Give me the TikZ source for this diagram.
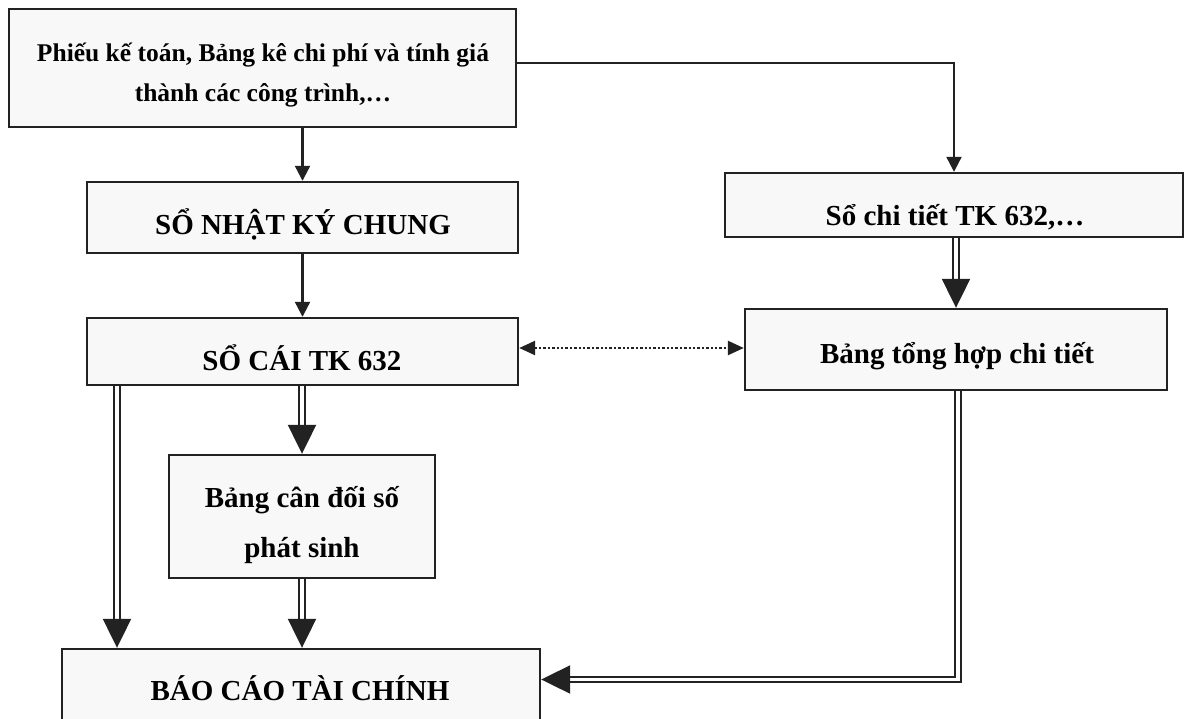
\documentclass[tikz,border=0pt]{standalone}
\usepackage{fontspec}
\setmainfont{Liberation Serif}
\usetikzlibrary{arrows.meta}
\definecolor{ink}{HTML}{222222}
\definecolor{boxfill}{HTML}{F8F8F8}
\begin{document}
\begin{tikzpicture}[x=1pt,y=-1pt,
  box/.style={draw=ink, fill=boxfill, line width=2.4pt, inner sep=0pt, rectangle},
  lbl/.style={font=\bfseries\fontsize{29}{34}\selectfont, inner sep=0pt, anchor=base, text=black},
  lblsmall/.style={font=\bfseries\fontsize{25.5}{30}\selectfont, inner sep=0pt, anchor=base, text=black},
  sarrow/.style={draw=ink, line width=2.2pt, -{Triangle[length=15pt,width=15pt]}},
  darrow/.style={draw=ink, double=white, line width=2.2pt, double distance=3.2pt, -{Triangle[length=29pt,width=28pt]}},
  dotarrow/.style={draw=ink, line width=2.6pt, dash pattern=on 2.4pt off 2pt, {Triangle[length=16pt,width=14pt]}-{Triangle[length=16pt,width=14pt]}},
]
\useasboundingbox (0,0) rectangle (1184,718);
\clip (0,0) rectangle (1184,718);
\fill[white] (0,0) rectangle (1184,718);

% boxes
\node[box, minimum width=507pt, minimum height=118pt] (top) at (262.5,68) {};
\node[box, minimum width=431pt, minimum height=71pt] (nkc) at (302.5,217.5) {};
\node[box, minimum width=431pt, minimum height=67pt] (sc) at (302.5,351.5) {};
\node[box, minimum width=266pt, minimum height=123pt] (bcd) at (302,516.5) {};
\node[box, minimum width=478pt, minimum height=111pt] (bctc) at (301,704.5) {};
\node[box, minimum width=458pt, minimum height=64pt] (ct) at (954,205) {};
\node[box, minimum width=422pt, minimum height=81pt] (th) at (956,349.5) {};

% labels
\node[lblsmall] (topa) at (263,61) {Phiếu kế toán, Bảng kê chi phí và tính giá};
\node[lblsmall] (topb) at (263,101) {thành các công trình,…};
\node[lbl] (nkct) at (303,234) {SỔ NHẬT KÝ CHUNG};
\node[lbl] (sct) at (302,370) {SỔ CÁI TK 632};
\node[lbl] (bcda) at (302,507) {Bảng cân đối số};
\node[lbl] (bcdb) at (302,557) {phát sinh};
\node[lbl] (bctct) at (300,700) {BÁO CÁO TÀI CHÍNH};
\node[lbl] (ctt) at (955,225) {Sổ chi tiết TK 632,…};
\node[lbl] (tht) at (957,363) {Bảng tổng hợp chi tiết};

% connectors
\draw[sarrow] (nkc.north |- top.south) -- (nkc.north);
\draw[sarrow] (nkc.south) -- (sc.north);
\draw[sarrow] (top.east |- 0,63) -| (ct.north);
\draw[darrow] (bcd.north |- sc.south) -- (bcd.north);
\draw[darrow] (sc.south -| 117,0) -- (bctc.north -| 117,0);
\draw[darrow] (bcd.south) -- (bcd.south |- bctc.north);
\draw[darrow] (th.north |- ct.south) -- (th.north);
\draw[darrow] (th.south -| 958,0) |- (bctc.east |- 0,679.5);
\draw[dotarrow] (sc.east |- 0,348) -- (th.west |- 0,348);
\end{tikzpicture}
\end{document}
